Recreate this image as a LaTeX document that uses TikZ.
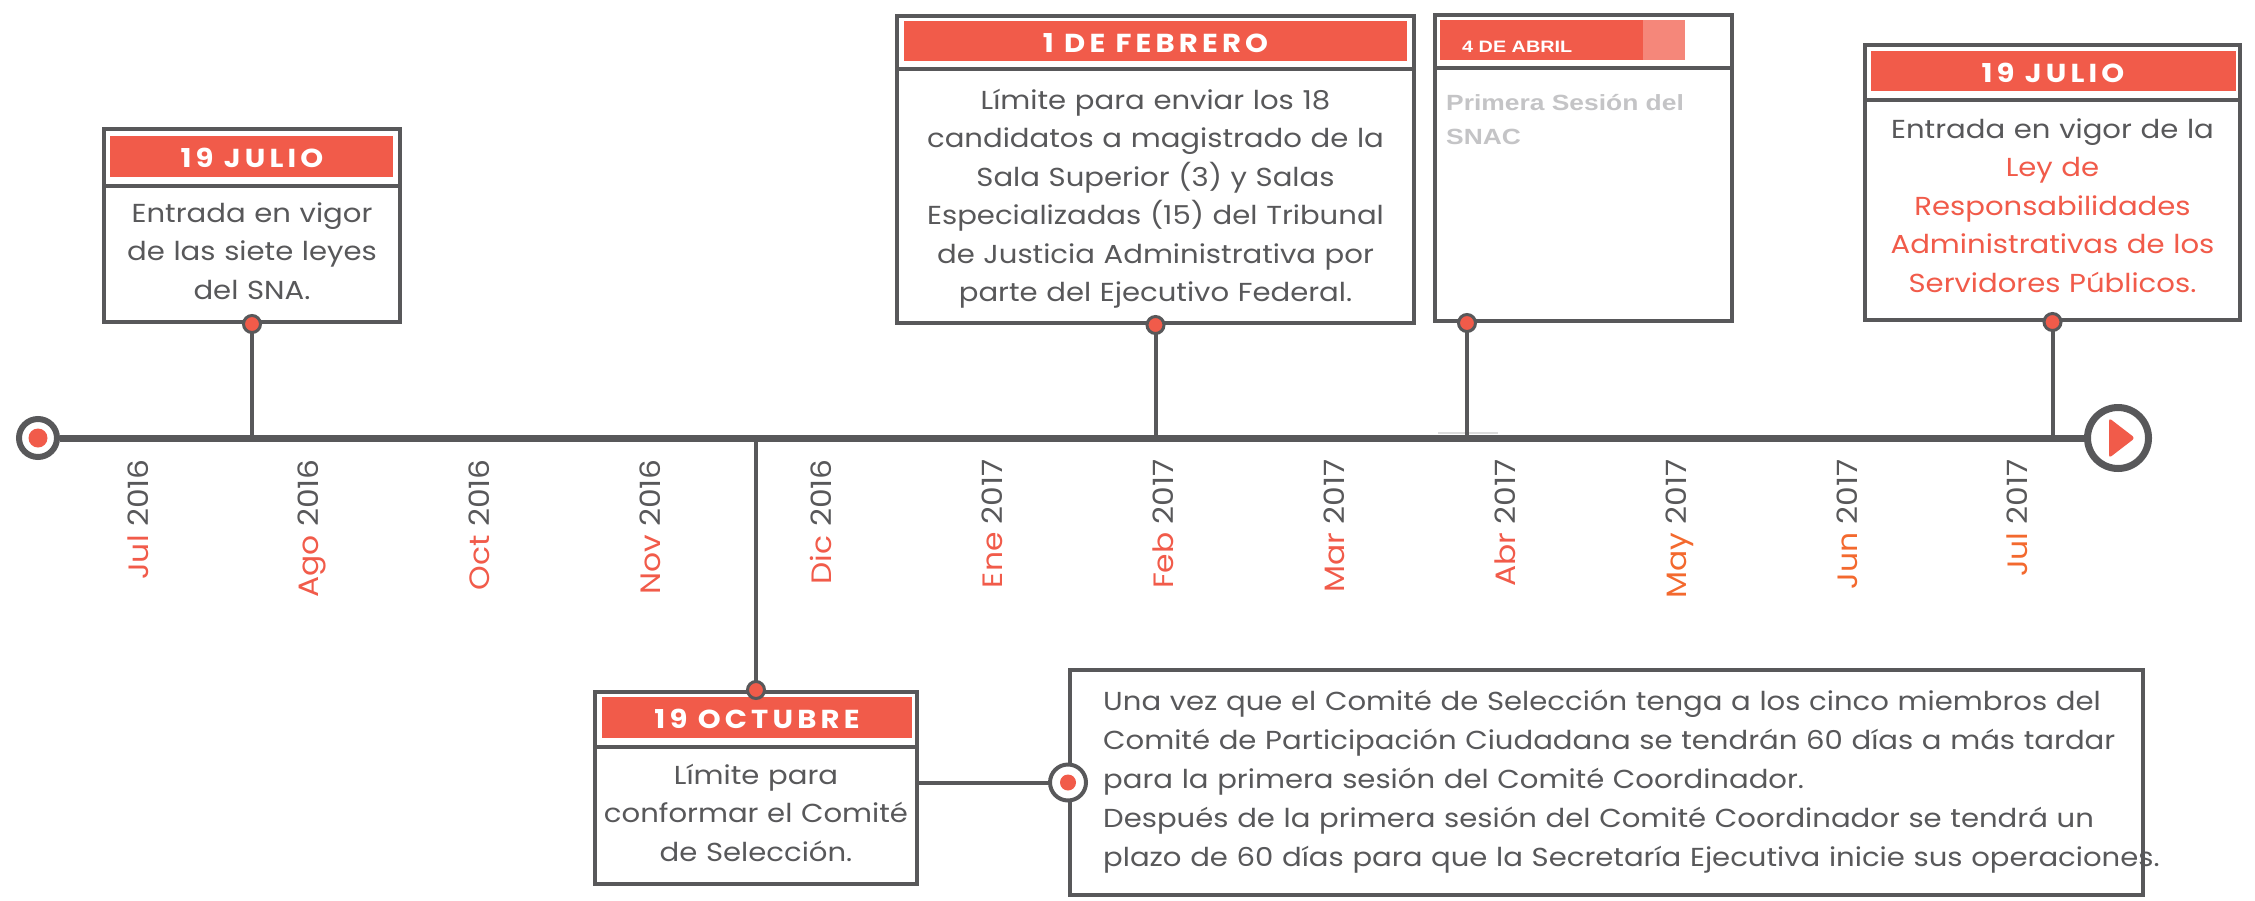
\documentclass[tikz,border=0pt]{standalone}
\usepackage{fontspec}
\setmainfont{Poppins}[FakeStretch=1.12]
\newfontfamily\abrilfont{Liberation Sans}[FakeStretch=1.2]
\usepackage{tikz}
\definecolor{snared}{HTML}{F15B4A}
\definecolor{snalight}{HTML}{F5877A}
\definecolor{snaorange}{HTML}{F3692E}
\definecolor{snagray}{HTML}{58585A}
\definecolor{snasilver}{HTML}{C4C4C6}
\definecolor{snaline}{HTML}{DCDCDC}
\newcommand\SNAbody{\fontsize{26}{38.5}\selectfont}
\newcommand\SNAhead{\fontsize{26}{30}\selectfont\bfseries\addfontfeatures{LetterSpace=16}}
\newcommand\SNAmonth{\fontsize{28}{30}\selectfont}
\tikzset{
  evbox/.style={draw=snagray, line width=4pt, fill=white, inner sep=0pt},
  evhead/.style={fill=snared, inner sep=0pt},
  evtext/.style={inner sep=0pt, text width=640pt, align=center, anchor=base, text=snagray, font=\SNAbody},
  headtext/.style={inner sep=0pt, anchor=base, text=white, font=\SNAhead},
  stem/.style={snagray, line width=4pt},
  dot/.style={circle, draw=snagray, fill=snared, line width=3pt, minimum size=17pt, inner sep=0pt},
  ring/.style={circle, draw=snagray, fill=white, inner sep=0pt},
  month/.style={rotate=90, anchor=base east, inner sep=0pt, font=\SNAmonth}
}

\begin{document}
\begin{tikzpicture}[x=1pt, y=-1pt]
\useasboundingbox (0,0) rectangle (2255,900);

% boxes
\node[evbox, minimum width=296pt, minimum height=193pt] (julbox) at (252,225.5) {};
\node[evbox, minimum width=517pt, minimum height=307pt] (febbox) at (1155.5,169.5) {};
\node[evbox, minimum width=297pt, minimum height=306pt] (abrbox) at (1583.5,168) {};
\node[evbox, minimum width=375pt, minimum height=275pt] (vigbox) at (2052.5,182.5) {};
\node[evbox, minimum width=322pt, minimum height=192pt] (octbox) at (756,788) {};
\node[evbox, minimum width=1073pt, minimum height=225pt] (notebox) at (1606.5,782.5) {};

\node[evhead, minimum width=283pt, minimum height=41pt] (julhead) at (251.5,156.5) {};
\node[evhead, minimum width=503pt, minimum height=40pt] (febhead) at (1155.5,41) {};
\node[evhead, minimum width=203pt, minimum height=40pt] (abrhead) at (1541.5,40) {};
\node[fill=snalight, inner sep=0pt, minimum width=42pt, minimum height=40pt] (abrfade) at (1664,40) {};
\node[evhead, minimum width=365pt, minimum height=40pt] (vighead) at (2053.5,71) {};
\node[evhead, minimum width=310pt, minimum height=41pt] (octhead) at (757,717.5) {};

\draw[stem] (julbox.west |- 0,186) -- (julbox.east |- 0,186);
\draw[stem] (febbox.west |- 0,69) -- (febbox.east |- 0,69);
\draw[stem] (abrbox.west |- 0,68) -- (abrbox.east |- 0,68);
\draw[stem] (vigbox.west |- 0,100) -- (vigbox.east |- 0,100);
\draw[stem] (octbox.west |- 0,747) -- (octbox.east |- 0,747);

% texts
\node[headtext] (jultitle) at (252,167) {19 JULIO};
\node[headtext] (febtitle) at (1155.5,52) {1 DE FEBRERO};
\node[inner sep=0pt, anchor=base west, text=white, font=\abrilfont\bfseries\fontsize{16.5}{20}\selectfont] (abrtitle) at (1462,52) {4 DE ABRIL};
\node[headtext] (vigtitle) at (2053,82) {19 JULIO};
\node[headtext] (octtitle) at (757,728) {19 OCTUBRE};

\node[evtext] (jultext) at (252,222) {Entrada en vigor\\ de las siete leyes\\ del SNA.};
\node[evtext] (febtext) at (1155.5,109) {L\'imite para enviar los 18\\
  candidatos a magistrado de la\\ Sala Superior (3) y Salas\\
  Especializadas (15) del Tribunal\\ de Justicia Administrativa por\\
  parte del Ejecutivo Federal.};
\node[inner sep=0pt, text width=280pt, align=left, anchor=base west, text=snasilver,
  font=\abrilfont\bfseries\fontsize{22}{34}\selectfont] (abrtext) at (1446,110) {Primera Sesi\'on del\\ SNAC};
\node[evtext] (vigtext) at (2052.5,138) {Entrada en vigor de la\\
  {\color{snared}Ley de\\ Responsabilidades\\ Administrativas de los\\ Servidores P\'ublicos.}};
\node[evtext] (octtext) at (756,784) {L\'imite para\\ conformar el Comit\'e\\ de Selecci\'on.};
\node[evtext, text width=1200pt, align=left, anchor=base west, font=\fontsize{26}{39}\selectfont] (notetext) at (1103,710)
  {Una vez que el Comit\'e de Selecci\'on tenga a los cinco miembros del\\
   Comit\'e de Participaci\'on Ciudadana se tendr\'an 60 d\'ias a m\'as tardar\\
   para la primera sesi\'on del Comit\'e Coordinador.\\
   Despu\'es de la primera sesi\'on del Comit\'e Coordinador se tendr\'a un\\
   plazo de 60 d\'ias para que la Secretar\'ia Ejecutiva inicie sus operaciones.};

% timeline
\coordinate (axis) at (0,438);
\draw[snaline, line width=2pt] (1438,433) -- (1498,433);
\node[ring, line width=6pt, minimum size=38pt] (start) at (38,438) {};
\node[ring, line width=7pt, minimum size=61pt] (stop) at (2118,438) {};
\draw[snagray, line width=7pt] (start) -- (stop);
\fill[snared] (start) circle (9.5pt);
\fill[snared, rounded corners=3pt] ([shift={(-9,-20)}]stop.center) -- ([shift={(17,0)}]stop.center)
  -- ([shift={(-9,20)}]stop.center) -- cycle;

\draw[stem] (julbox.south) -- (julbox.south |- axis);
\draw[stem] (febbox.south) -- (febbox.south |- axis);
\draw[stem] ([xshift=34pt]abrbox.south west) -- ([xshift=34pt]abrbox.south west |- axis);
\draw[stem] (vigbox.south) -- (vigbox.south |- axis);
\draw[stem] (octbox.north) -- (octbox.north |- axis);
\node[dot] (juldot) at (julbox.south) {};
\node[dot] (febdot) at (febbox.south) {};
\node[dot] (abrdot) at ([xshift=34pt]abrbox.south west) {};
\node[dot] (vigdot) at (vigbox.south) {};
\node[dot] (octdot) at (octbox.north) {};

\node[ring, line width=4pt, minimum size=36pt] (notedot) at (notebox.west) {};
\draw[stem] (octbox.east |- notedot) -- (notedot);
\fill[snared] (notedot) circle (8pt);

\foreach \m/\yr/\c [count=\i from 0] in {Jul/2016/snared, Ago/2016/snared, Oct/2016/snared,
  Nov/2016/snared, Dic/2016/snared, Ene/2017/snared, Feb/2017/snared, Mar/2017/snared,
  Abr/2017/snared, May/2017/snaorange, Jun/2017/snaorange, Jul/2017/snaorange}
{
  \node[month, text=\c] (mes\i) at ({148+\i*170.9},459) {\m\ \textcolor{snagray}{\yr}};
}

\end{tikzpicture}
\end{document}
